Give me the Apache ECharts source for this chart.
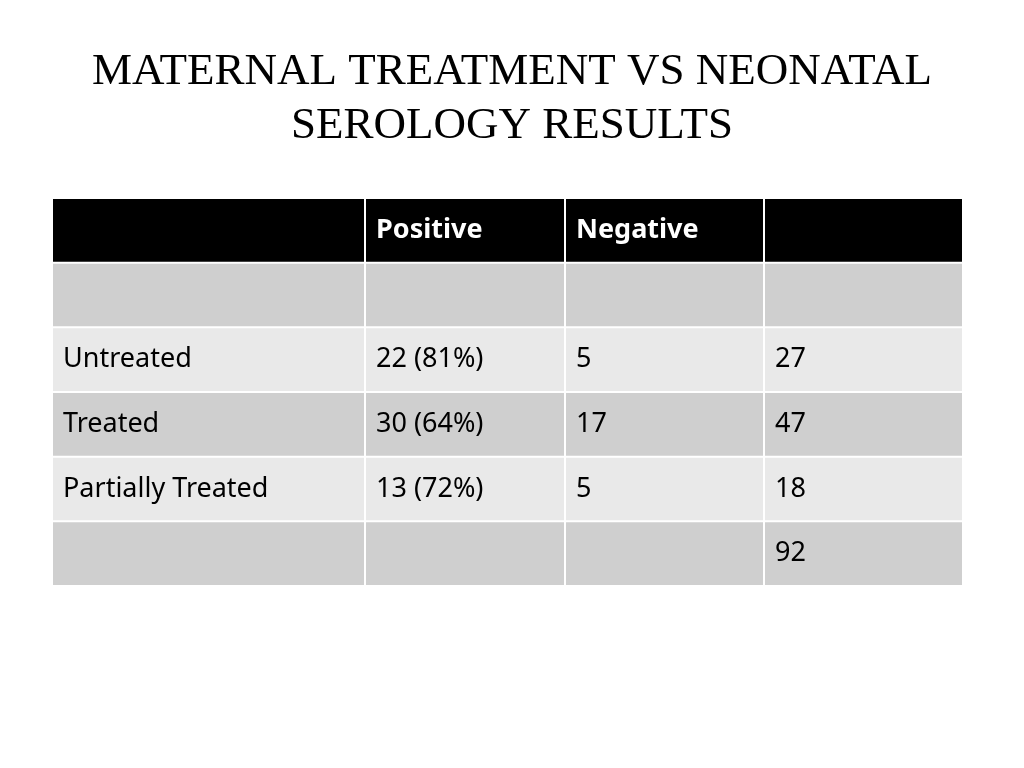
<!DOCTYPE html>
<html>
<head>
<meta charset="utf-8">
<script src="https://cdn.jsdelivr.net/npm/echarts@6/dist/echarts.min.js"></script>
<style>
  html, body { margin: 0; padding: 0; background: #fff; }
  #main { width: 1024px; height: 768px; }
</style>
</head>
<body>
<div id="main"></div>
<script>
var titleText = 'MATERNAL TREATMENT VS NEONATAL\nSEROLOGY RESULTS';
var headers = ['', 'Positive', 'Negative', ''];
var rowLabels = ['', 'Untreated', 'Treated', 'Partially Treated', ''];
var positives = ['', '22 (81%)', '30 (64%)', '13 (72%)', ''];
var negatives = ['', '5', '17', '5', ''];
var totals = ['', '27', '47', '18', '92'];

// column widths in pixels (layout only)
var colWidths = [313, 200, 199, 199];
var colEdges = [0];
colWidths.forEach(function (w, i) { colEdges.push(colEdges[i] + w); });

var rows = [headers];
for (var i = 0; i < rowLabels.length; i++) {
    rows.push([rowLabels[i], positives[i], negatives[i], totals[i]]);
}

var cells = [];
rows.forEach(function (row, r) {
    row.forEach(function (txt, c) {
        cells.push({ value: [c, r], text: txt });
    });
});

var fills = ['#000000', '#cfcfcf', '#e9e9e9', '#cfcfcf', '#e9e9e9', '#cfcfcf'];

var myChart = echarts.init(document.getElementById('main'));
myChart.setOption({
    animation: false,
    title: {
        text: titleText,
        left: 'center',
        top: 40,
        textStyle: {
            fontFamily: 'Liberation Serif',
            fontWeight: 'normal',
            fontSize: 45,
            lineHeight: 54,
            color: '#000'
        }
    },
    grid: { left: 52, top: 198, width: 911, height: 388 },
    xAxis: { type: 'value', min: 0, max: colEdges[colEdges.length - 1], show: false },
    yAxis: {
        type: 'category',
        data: rows.map(function (_, r) { return r; }),
        inverse: true,
        show: false
    },
    series: [{
        type: 'custom',
        data: cells,
        renderItem: function (params, api) {
            var c = api.value(0), r = api.value(1);
            var left = api.coord([colEdges[c], r]);
            var right = api.coord([colEdges[c + 1], r]);
            var h = api.size([0, 1])[1];
            var x = left[0] + 1, y = left[1] - h / 2 + 1;
            var w = right[0] - left[0] - 2, hh = h - 2;
            return {
                type: 'group',
                children: [{
                    type: 'rect',
                    shape: { x: x, y: y, width: w, height: hh },
                    style: { fill: fills[r] }
                }, {
                    type: 'text',
                    style: {
                        x: x + 10,
                        y: y + hh / 2,
                        text: cells[params.dataIndex].text,
                        fill: r === 0 ? '#ffffff' : '#000000',
                        font: (r === 0 ? 'bold ' : 'normal ') + '27px "Noto Sans", sans-serif',
                        verticalAlign: 'middle',
                        align: 'left'
                    }
                }]
            };
        }
    }]
});
</script>
</body>
</html>
